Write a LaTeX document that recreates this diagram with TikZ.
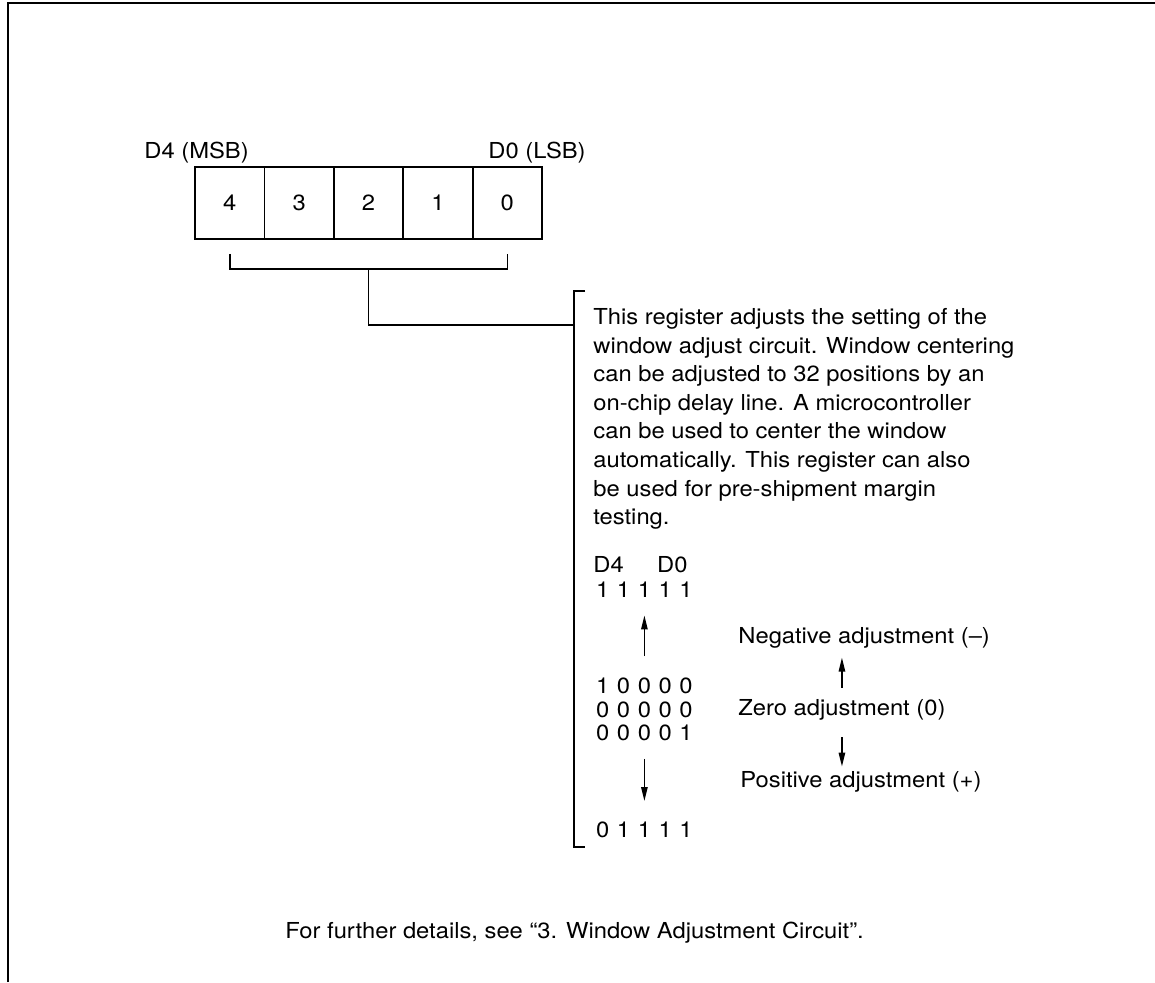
\documentclass[tikz,border=0pt]{standalone}
\usepackage{fontspec}
\setmainfont{TeX Gyre Heros}[FakeStretch=1.08]
\usetikzlibrary{arrows.meta,calc}

% one row of five bits on a fixed pitch
\newcommand{\bitrow}[5]{\makebox[10.4pt]{#1}\makebox[10.4pt]{#2}\makebox[10.4pt]{#3}\makebox[10.4pt]{#4}\makebox[10.4pt]{#5}}

\begin{document}
\begin{tikzpicture}[
  x=0.5pt, y=-0.5pt, font=\fontsize{11pt}{14.3pt}\selectfont,
  cell/.style ={draw,rectangle,line width=0.9pt,minimum width=34.7pt,minimum height=36pt,inner sep=0pt},
  ln/.style   ={draw,line width=0.8pt},
  frm/.style  ={draw,line width=1.2pt},
  arr/.style  ={draw,-{Triangle[length=7pt,width=3.2pt]},line width=0.8pt},
  lab/.style  ={inner sep=0pt,anchor=base west},
  txt/.style  ={inner sep=0pt,align=left,anchor=north west},
]
\useasboundingbox (0,0) rectangle (1155,982);

% ----------------------------------------------------------- page frame
\draw[frm] (8,982) -- (8,3) -- (1155,3);

% ----------------------------------------------------------- the register
\foreach \k/\b in {0/4, 1/3, 2/2, 3/1, 4/0} {
  \node[cell] (b\b) at (229.7+69.4*\k, 203) {\b};
}
\node[lab] (msb) at (144, 158) {D4 (MSB)};
\node[lab] (lsb) at (488, 158) {D0 (LSB)};

% bracket under all five bits, led to the note
\draw[ln] ($(b4.south)+(0,14)$) -- ($(b4.south)+(0,29)$) -| ($(b0.south)+(0,14)$);
\coordinate (brk) at ($(b2.south)+(0,29)$);
\coordinate (jn) at (574, 325);
\draw[ln] (brk) |- (jn);

% ----------------------------------------------------------- the note
\coordinate (nt) at (574, 291);
\coordinate (nb) at (574, 847);
\draw[ln] ($(nt)+(11,0)$) -- (nt) -- (nb) -- ($(nb)+(11,0)$);

\node[txt] (desc) at (593, 308)
  {This register adjusts the setting of the\\
   window adjust circuit. Window centering\\
   can be adjusted to 32 positions by an\\
   on-chip delay line. A microcontroller\\
   can be used to center the window\\
   automatically. This register can also\\
   be used for pre-shipment margin\\
   testing.};

% bit patterns
\node[lab] (d4) at (593, 572) {D4};
\node[lab,anchor=base east] (d0) at (688, 572) {D0};
\node[lab] (r11111) at (592, 597) {\bitrow11111};
\node[lab] (r10000) at (592, 693) {\bitrow10000};
\node[lab] (r00000) at (592, 717) {\bitrow00000};
\node[lab] (r00001) at (592, 740) {\bitrow00001};
\node[lab] (r01111) at (592, 837) {\bitrow01111};
\draw[arr,shorten <=10.5pt,shorten >=9pt] (r10000.north) -- (r11111.south);
\draw[arr,shorten <=9pt,shorten >=10pt] (r00001.south) -- (r01111.north);

% direction of adjustment
\node[lab] (neg)  at (738, 643) {Negative adjustment (–)};
\node[lab] (zero) at (738, 715) {Zero adjustment (0)};
\node[lab] (pos)  at (740, 787) {Positive adjustment (+)};
\draw[arr,shorten <=5.5pt,shorten >=4.7pt] (zero.north) -- (zero.north |- neg.south);
\draw[arr,shorten <=8.5pt,shorten >=2pt] (zero.south) -- (zero.south |- pos.north);

% ----------------------------------------------------------- footer
\node[lab] (foot) at (285, 938) {For further details, see “3. Window Adjustment Circuit”.};

\end{tikzpicture}
\end{document}
